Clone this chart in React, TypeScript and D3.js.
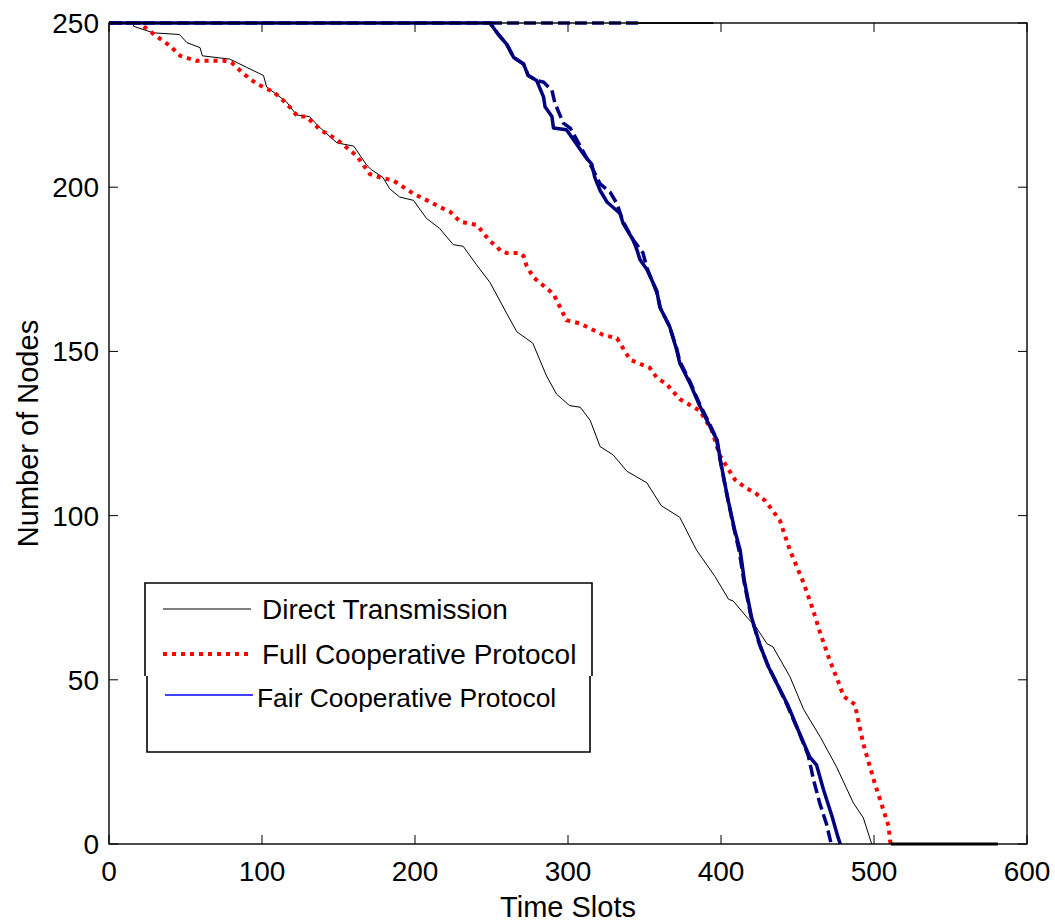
import * as d3 from 'd3';
import React from 'react';

const width = 1055;
const height = 923;
const margin = { top: 23, right: 28, bottom: 79, left: 109 };
const navy = '#000080';
const red = '#ff0000';

// [time slot, number of nodes]
const directTransmission: [number, number][] = [
  [0, 250], [16, 250], [16, 249], [29, 247], [46, 246.5], [51, 244], [59.5, 242.5], [61, 240],
  [79, 239], [90, 236.5], [101, 234], [103, 230.5], [116, 226], [122.5, 222], [131, 221.5],
  [137, 218.5], [149, 213.5], [160, 212.5], [168, 207], [171, 205.5], [179, 203], [183.5, 199.5],
  [190, 197], [199, 196], [207.5, 190.5], [216, 187.5], [225, 182.5], [231.5, 182], [240, 176.5],
  [249, 171], [260, 161.5], [266.5, 156], [277, 152.5], [286, 142.5], [292.5, 137], [301, 133.5],
  [308, 133], [314.5, 129], [321, 121], [329.5, 118.5], [338.5, 113.5], [351.5, 110], [361, 103],
  [373, 99.5], [384, 89.5], [396, 81.5], [405, 74.5], [408, 74], [417, 69], [423, 66], [430, 61],
  [434, 60], [445, 51], [454, 41], [465, 32.5], [475.5, 23.5], [486.5, 12.5], [493, 8], [498.5, 0]
];

const fullCooperative: [number, number][] = [
  [0, 250], [20, 250], [22.5, 249], [31, 246], [40, 243], [46.5, 240], [57, 238.5], [75, 238.5],
  [80, 238], [88, 234.5], [96.5, 231.5], [107.5, 229], [116, 225.5], [123.5, 221.5], [129, 221.5],
  [138, 217.5], [149, 214.5], [162, 209.5], [170.5, 204], [177, 203], [186, 202], [199, 198],
  [210, 195.5], [216, 194], [223, 192.5], [229.5, 189.5], [240.5, 188.5], [249, 183.5],
  [253.5, 182], [256, 180.5], [260, 180], [268.5, 180], [271, 179], [273, 176], [277.5, 172.5],
  [290.5, 167.5], [299, 159.5], [308, 158.5], [323, 155], [332, 154], [340.5, 147.5],
  [353.5, 145], [358, 142], [364.5, 140], [373, 135.5], [386, 132], [394, 126], [399, 118.5],
  [409, 111], [416, 108.5], [422, 107], [429, 104.5], [438.5, 98.5], [445, 89.5], [454, 79.5],
  [460, 71.5], [465, 64], [471, 56], [477, 49], [480, 45], [487.5, 42.5], [493, 30.5],
  [500.5, 18.5], [509.5, 5.5], [510.5, 1], [511, 0]
];

const fairCooperative: [number, number][] = [
  [0, 250], [249, 250], [254.5, 246.5], [260, 243.5], [264.5, 239.5], [271, 237.5], [274, 234],
  [279.5, 232.5], [284, 227.5], [285, 224.5], [289.5, 221.5], [290.5, 218], [299, 217.5],
  [303.5, 214.5], [311, 209.5], [315.5, 207], [317.5, 203], [321, 199], [325.5, 195.5], [334, 192],
  [336, 189], [342.5, 184], [345, 181], [347, 178], [351.5, 175], [358, 168.5], [360, 163.5],
  [366.5, 157.5], [371, 150.5], [373, 146.5], [380, 140], [386, 133.5], [394, 126], [397.5, 123],
  [399.5, 117], [404.5, 105], [409, 95.5], [412.5, 89.5], [415.5, 79.5], [420, 69], [425.5, 60.5],
  [431, 54], [438.5, 47], [444, 42], [451.5, 33.5], [458, 26.5], [462.5, 24], [467, 16.5],
  [472.5, 8.5], [476.5, 2], [478, 0]
];

const fairCooperativeDashed: [number, number][] = [
  [0, 250], [249, 250], [254.5, 246.5], [260, 243.5], [264.5, 239.5], [271, 237.5], [274, 234],
  [279.5, 232.5], [284, 232], [289.5, 229.5], [291.5, 225.5], [297, 219.5], [301.5, 218],
  [308, 212.5], [314.5, 207], [321, 201], [327.5, 198.5], [332, 195], [336, 189.5], [342.5, 184],
  [349, 180], [351.5, 175.5], [358, 168], [360.5, 163], [366, 158], [371, 151], [373, 147],
  [380, 140.5], [386, 134], [393.5, 127], [397, 123.5], [399, 118], [404, 106], [408.5, 96],
  [412, 89], [415, 80], [419.5, 69.5], [425, 61], [430.5, 54.5], [438, 47.5], [443.5, 42],
  [451, 34], [457, 27], [460.5, 19.5], [464.5, 12.5], [469, 6], [472, 0]
];

// leftover flat pieces along the top and bottom of the box
const topDashedTail: [number, number][] = [[249, 250], [347, 250]];
const topBlackTail: [number, number][] = [[338, 250], [395, 250]];
const bottomBlackTail: [number, number][] = [[511, 0], [581, 0]];

const legendLabels = ['Direct Transmission', 'Full Cooperative Protocol', 'Fair Cooperative Protocol'];

const font = '"Liberation Sans", Arial, sans-serif';

export default function App() {
  const x = d3.scaleLinear().domain([0, 600]).range([margin.left, width - margin.right]);
  const y = d3.scaleLinear().domain([0, 250]).range([height - margin.bottom, margin.top]);
  const line = d3.line<[number, number]>().x(d => x(d[0])).y(d => y(d[1]));

  const x0 = x.range()[0];
  const x1 = x.range()[1];
  const y0 = y.range()[0];
  const y1 = y.range()[1];
  const tick = 9;

  return (
    <div style={{ position: 'absolute', left: 0, top: 0 }}>
      <svg width={width} height={height} style={{ display: 'block', background: '#fff' }}>
        <rect x={0} y={0} width={width} height={height} fill="#fff" />

        {/* ticks inside the box */}
        <g stroke="#000" strokeWidth={1}>
          {x.ticks(6).map(t => (
            <g key={'xt' + t}>
              <line x1={x(t)} x2={x(t)} y1={y0} y2={y0 - tick} />
              <line x1={x(t)} x2={x(t)} y1={y1} y2={y1 + tick} />
            </g>
          ))}
          {y.ticks(5).map(t => (
            <g key={'yt' + t}>
              <line x1={x0} x2={x0 + tick} y1={y(t)} y2={y(t)} />
              <line x1={x1} x2={x1 - tick} y1={y(t)} y2={y(t)} />
            </g>
          ))}
        </g>

        {/* series */}
        <path d={line(directTransmission) || ''} fill="none" stroke="#000" strokeWidth={1} />
        <path d={line(fullCooperative) || ''} fill="none" stroke={red} strokeWidth={4} strokeDasharray="4,5" />
        <path d={line(fairCooperative) || ''} fill="none" stroke={navy} strokeWidth={3.5} strokeLinejoin="round" />
        <path d={line(fairCooperativeDashed) || ''} fill="none" stroke={navy} strokeWidth={3.5} strokeDasharray="12,5" />
        <path d={line(topDashedTail) || ''} fill="none" stroke={navy} strokeWidth={3.5} strokeDasharray="12,5" />
        <path d={line(topBlackTail) || ''} fill="none" stroke="#222" strokeWidth={2} />
        <path d={line(bottomBlackTail) || ''} fill="none" stroke="#000" strokeWidth={3} />

        {/* box */}
        <rect x={x0} y={y1} width={x1 - x0} height={y0 - y1} fill="none" stroke="#000" strokeWidth={1.4} />

        {/* tick labels */}
        <g fontFamily={font} fontSize={28} fill="#000">
          {x.ticks(6).map(t => (
            <text key={'xl' + t} x={x(t)} y={y0 + 37} textAnchor="middle">{t}</text>
          ))}
          {y.ticks(5).map(t => (
            <text key={'yl' + t} x={x0 - 10} y={y(t) + 10} textAnchor="end">{t}</text>
          ))}
        </g>

        <text x={(x0 + x1) / 2} y={917} textAnchor="middle" fontFamily={font} fontSize={29}>Time Slots</text>
        <text
          transform={`translate(38, ${(y0 + y1) / 2}) rotate(-90)`}
          textAnchor="middle"
          fontFamily={font}
          fontSize={29}
        >
          Number of Nodes
        </text>

        {/* legend */}
        <g>
          <rect x={146} y={583} width={445} height={169} fill="#fff" />
          <path
            d="M145,676 L145,583 L592,583 L592,676 M590,676 L590,752 L147,752 L147,676"
            fill="none"
            stroke="#000"
            strokeWidth={1.6}
          />
          <line x1={163} x2={251} y1={609} y2={609} stroke="#000" strokeWidth={1} />
          <line x1={163} x2={250} y1={654} y2={654} stroke={red} strokeWidth={4} strokeDasharray="4,5" />
          <line x1={165} x2={253} y1={695} y2={695} stroke="#0000ff" strokeWidth={1.5} />
          <text x={262} y={619} fontFamily={font} fontSize={28}>{legendLabels[0]}</text>
          <text x={262} y={664} fontFamily={font} fontSize={28}>{legendLabels[1]}</text>
          <text x={257} y={707} fontFamily={font} fontSize={26.4}>{legendLabels[2]}</text>
        </g>
      </svg>
    </div>
  );
}
